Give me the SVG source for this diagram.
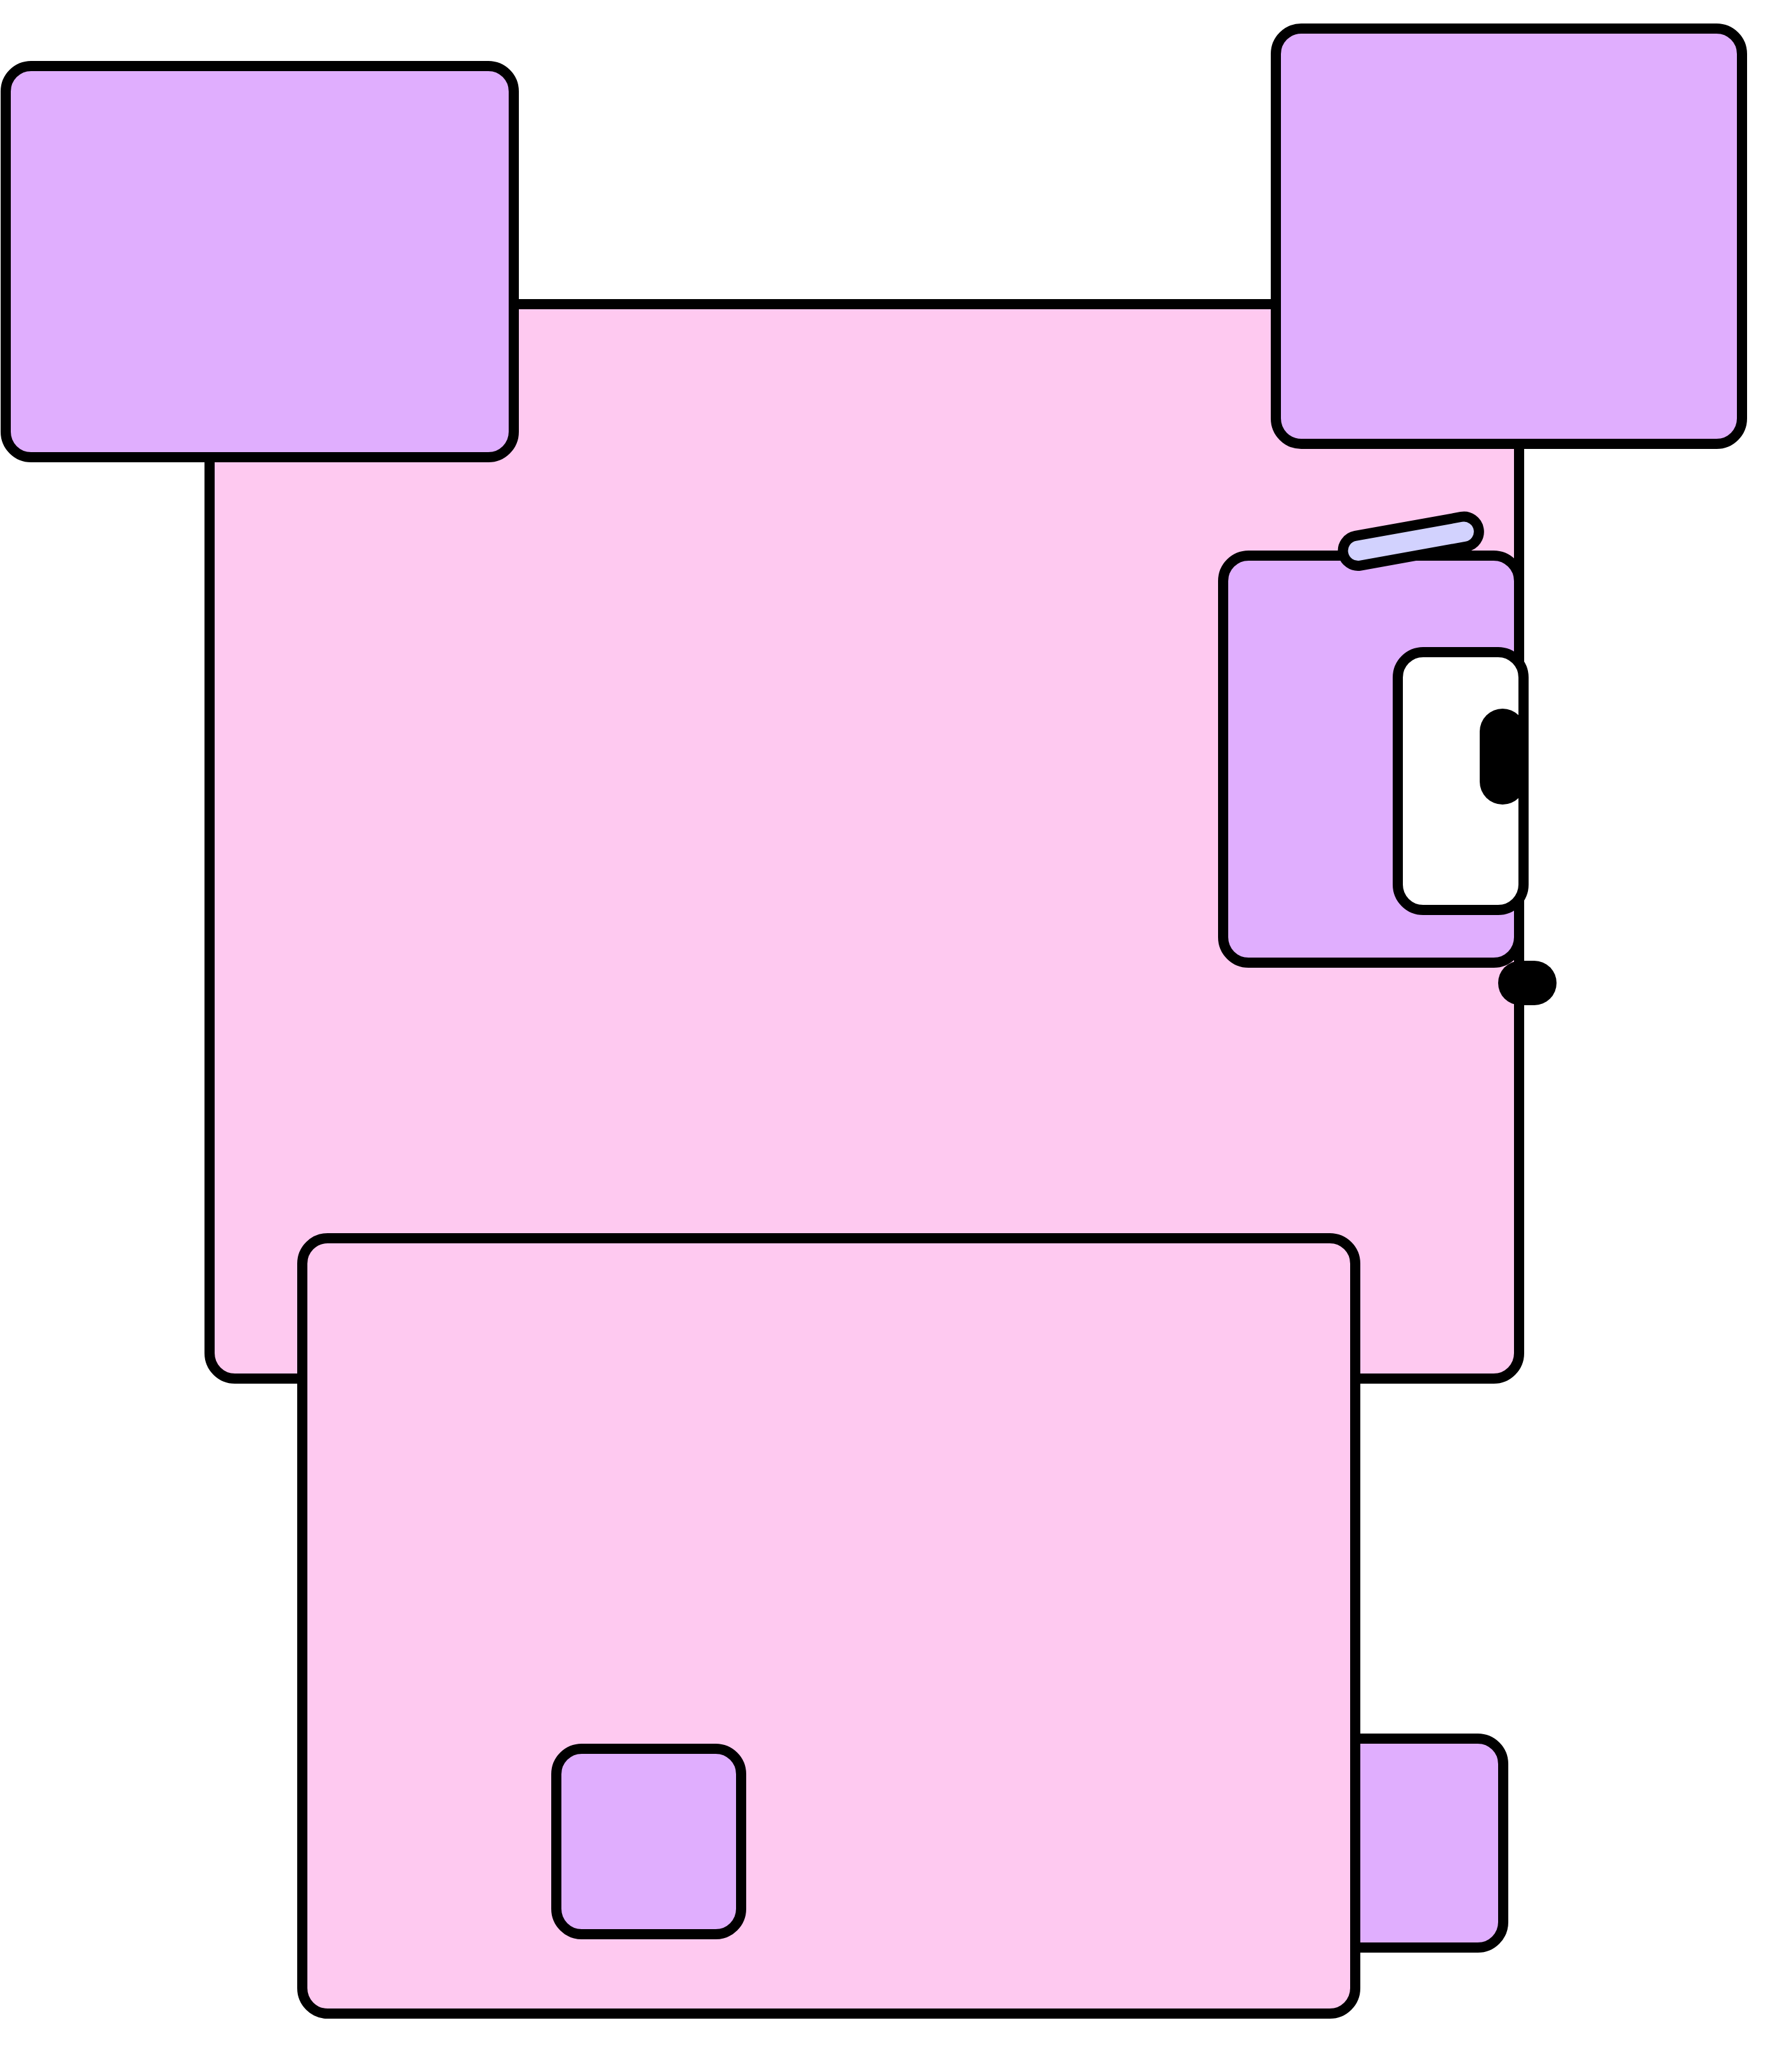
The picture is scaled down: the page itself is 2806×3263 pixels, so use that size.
<svg xmlns="http://www.w3.org/2000/svg" width="2806" height="3263" viewBox="0 0 2806 3263">
  <style>
    .s { stroke: #000000; stroke-width: 16; stroke-linejoin: round; }
    .pink { fill: #FEC9F0; }
    .purple { fill: #E0AEFE; }
    .lav { fill: #D2D2FE; }
    .white { fill: #FFFFFF; }
    .blk { fill: #000000; }
  </style>
  <rect width="2806" height="3263" fill="#FFFFFF"/>
  <g id="body"><rect class="s pink" x="330" y="479" width="2062" height="1692" rx="40"/></g>
  <g id="ear-left"><rect class="s purple" x="9" y="104" width="800" height="616" rx="40"/></g>
  <g id="ear-right"><rect class="s purple" x="2009" y="45" width="734" height="654" rx="40"/></g>
  <g id="eye-patch"><rect class="s purple" x="1926" y="875" width="466" height="641" rx="40"/></g>
  <g id="eyebrow"><rect class="s lav" x="2113.3" y="828.6" width="216.8" height="47.4" rx="23.7" transform="rotate(-10.2 2221.7 852.3)"/></g>
  <g id="eye"><rect class="s white" x="2201" y="1027" width="198" height="406" rx="40"/></g>
  <g id="pupil"><rect class="blk" x="2330" y="1116" width="72" height="151" rx="36"/></g>
  <g id="nose"><rect class="blk" x="2359" y="1513" width="92" height="70" rx="35"/></g>
  <g id="leg-right"><rect class="s purple" x="2060" y="2738" width="307" height="329" rx="40"/></g>
  <g id="lower-body"><rect class="s pink" x="476" y="1950" width="1658" height="1221" rx="40"/></g>
  <g id="leg-left"><rect class="s purple" x="876" y="2754" width="291" height="292" rx="40"/></g>
  <g id="connectors"></g>
</svg>
